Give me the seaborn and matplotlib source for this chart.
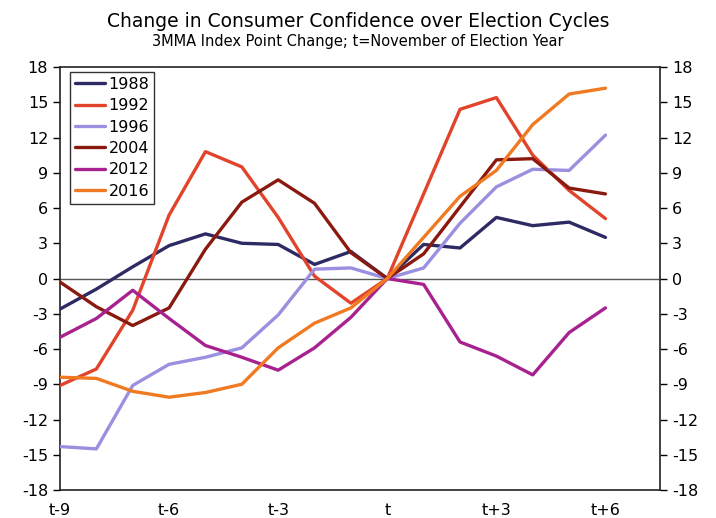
"""Change in consumer confidence over election cycles."""

import matplotlib
matplotlib.use("Agg")
import matplotlib.pyplot as plt
import pandas as pd
import seaborn as sns

# months relative to November of election year
months = list(range(-9, 7))
tick_pos = [-9, -6, -3, 0, 3, 6]
tick_labels = ["t-9", "t-6", "t-3", "t", "t+3", "t+6"]

y1988 = [-2.6, -0.9, 1.0, 2.8, 3.8, 3.0, 2.9, 1.2, 2.3, 0.0, 2.9, 2.6, 5.2, 4.5, 4.8, 3.5]
y1992 = [-9.1, -7.7, -2.7, 5.4, 10.8, 9.5, 5.2, 0.2, -2.1, 0.0, 7.2, 14.4, 15.4, 10.5, 7.5, 5.1]
y1996 = [-14.3, -14.5, -9.1, -7.3, -6.7, -5.9, -3.1, 0.8, 0.9, 0.0, 0.9, 4.7, 7.8, 9.3, 9.2, 12.2]
y2004 = [-0.3, -2.4, -4.0, -2.5, 2.5, 6.5, 8.4, 6.4, 2.2, 0.0, 2.1, 6.1, 10.1, 10.2, 7.7, 7.2]
y2012 = [-5.0, -3.4, -1.0, -3.4, -5.7, -6.7, -7.8, -5.9, -3.3, 0.0, -0.5, -5.4, -6.6, -8.2, -4.6, -2.5]
y2016 = [-8.4, -8.5, -9.6, -10.1, -9.7, -9.0, -5.9, -3.8, -2.5, 0.0, 3.5, 7.0, 9.2, 13.1, 15.7, 16.2]

series = {"1988": y1988, "1992": y1992, "1996": y1996,
          "2004": y2004, "2012": y2012, "2016": y2016}
colors = {"1988": "#2e2a63", "1992": "#e2442b", "1996": "#9b8fe0",
          "2004": "#8a1a0f", "2012": "#a8228f", "2016": "#f07a22"}

df = pd.concat(
    [pd.DataFrame({"month": months, "value": v, "year": k}) for k, v in series.items()],
    ignore_index=True,
)

sns.set_style("white")
plt.rcParams["font.family"] = ["DejaVu Sans"]
plt.rcParams["axes.unicode_minus"] = False
plt.rcParams["text.color"] = "black"
plt.rcParams["xtick.color"] = "black"
plt.rcParams["ytick.color"] = "black"

fig = plt.figure(figsize=(7.16, 5.18), dpi=100)
ax = fig.add_axes([0.0838, 0.054, 0.838, 0.8166])

ax.axhline(0, color="#555555", lw=1, zorder=1)
sns.lineplot(data=df, x="month", y="value", hue="year", palette=colors,
             lw=2.4, ax=ax, zorder=3)

ax.set_xlim(-9, 7.5)
ax.set_ylim(-18, 18)
ax.set_xticks(tick_pos)
ax.set_xticklabels(tick_labels)
ax.set_yticks(range(-18, 19, 3))
ax.set_xlabel("")
ax.set_ylabel("")
ax.tick_params(axis="x", direction="inout", length=8, width=1, labelsize=11.5, pad=5)
ax.tick_params(axis="y", direction="out", length=5, width=1, labelsize=11.5,
               left=True, right=True, labelleft=True, labelright=True)
for s in ax.spines.values():
    s.set_color("#222222")
    s.set_linewidth(1.2)

leg = ax.legend(loc="upper left", bbox_to_anchor=(0.017, 0.988), frameon=True,
                fancybox=False, edgecolor="black", fontsize=11.5,
                handlelength=1.9, handletextpad=0.2, labelspacing=0.4,
                borderpad=0.3, borderaxespad=0)
leg.get_frame().set_linewidth(1.0)

fig.text(0.5, 0.958, "Change in Consumer Confidence over Election Cycles",
         ha="center", va="center", fontsize=13.5)
fig.text(0.5, 0.92, "3MMA Index Point Change; t=November of Election Year",
         ha="center", va="center", fontsize=10.5)

fig.savefig("out.png", dpi=100)
